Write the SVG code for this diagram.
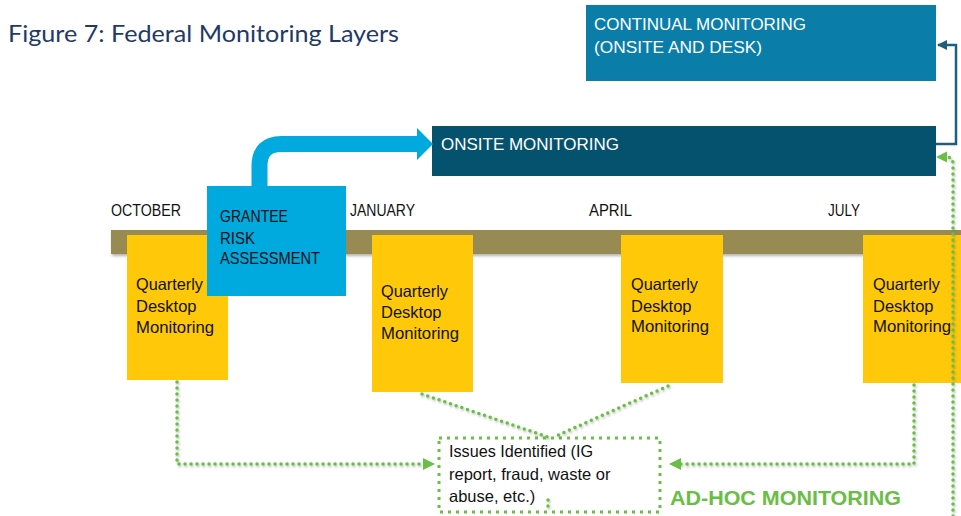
<svg xmlns="http://www.w3.org/2000/svg" width="961" height="516" viewBox="0 0 961 516">
  <defs>
    <style>
      .cap { font-family: "Liberation Sans", Arial, sans-serif; font-size: 17px; }
      .wht { fill: #ffffff; }
      .blk { fill: #111111; }
      .qdm { font-family: "Liberation Sans", Arial, sans-serif; font-size: 16.5px; fill: #111111; }
      .yel { fill: #ffc90a; }
      .dots { fill: none; stroke: #6abd45; stroke-width: 3.5; stroke-dasharray: 0 6; stroke-linecap: round; stroke-linejoin: round; }
    </style>
    <filter id="barShadow" x="-5%" y="-50%" width="110%" height="200%">
      <feDropShadow dx="1" dy="2" stdDeviation="1.5" flood-color="#000" flood-opacity="0.3"/>
    </filter>
    <filter id="dotShadow" x="-10%" y="-10%" width="120%" height="120%">
      <feDropShadow dx="1" dy="1.5" stdDeviation="1" flood-color="#666" flood-opacity="0.45"/>
    </filter>
    <marker id="tealHead" viewBox="0 0 10 10" refX="9" refY="5" markerWidth="4" markerHeight="4" orient="auto" markerUnits="strokeWidth">
      <path d="M0,0 L10,5 L0,10 Z" fill="#1e607c"/>
    </marker>
  </defs>

  <rect width="961" height="516" fill="#ffffff"/>

  <!-- heading -->
  <text x="8" y="42" font-family="Lato, 'Noto Sans', sans-serif" font-size="23" fill="#1f3a68" textLength="391" lengthAdjust="spacingAndGlyphs">Figure 7: Federal Monitoring Layers</text>

  <!-- timeline bar and month labels -->
  <g id="timeline">
    <rect x="111" y="230" width="850" height="24" fill="#978a52" filter="url(#barShadow)"/>
    <text class="cap blk" x="111" y="216" font-size="16" textLength="70" lengthAdjust="spacingAndGlyphs">OCTOBER</text>
    <text class="cap blk" x="350" y="216" font-size="16" textLength="65" lengthAdjust="spacingAndGlyphs">JANUARY</text>
    <text class="cap blk" x="589" y="216" font-size="16" textLength="43" lengthAdjust="spacingAndGlyphs">APRIL</text>
    <text class="cap blk" x="828" y="216" font-size="16" textLength="32" lengthAdjust="spacingAndGlyphs">JULY</text>
  </g>

  <!-- quarterly desktop monitoring boxes -->
  <g id="q1">
    <rect class="yel" x="127" y="235" width="101" height="145"/>
    <text class="qdm" x="136" y="290" textLength="67" lengthAdjust="spacingAndGlyphs">Quarterly</text>
    <text class="qdm" x="136" y="312">Desktop</text>
    <text class="qdm" x="136" y="333" textLength="78" lengthAdjust="spacingAndGlyphs">Monitoring</text>
  </g>
  <g id="q2">
    <rect class="yel" x="372" y="235" width="101" height="157"/>
    <text class="qdm" x="381" y="297" textLength="67" lengthAdjust="spacingAndGlyphs">Quarterly</text>
    <text class="qdm" x="381" y="318">Desktop</text>
    <text class="qdm" x="381" y="339" textLength="78" lengthAdjust="spacingAndGlyphs">Monitoring</text>
  </g>
  <g id="q3">
    <rect class="yel" x="621" y="235" width="102" height="148"/>
    <text class="qdm" x="631" y="290" textLength="67" lengthAdjust="spacingAndGlyphs">Quarterly</text>
    <text class="qdm" x="631" y="312">Desktop</text>
    <text class="qdm" x="631" y="332" textLength="78" lengthAdjust="spacingAndGlyphs">Monitoring</text>
  </g>
  <g id="q4">
    <rect class="yel" x="863" y="235" width="98" height="148"/>
    <text class="qdm" x="873" y="290" textLength="67" lengthAdjust="spacingAndGlyphs">Quarterly</text>
    <text class="qdm" x="873" y="312">Desktop</text>
    <text class="qdm" x="873" y="332" textLength="78" lengthAdjust="spacingAndGlyphs">Monitoring</text>
  </g>

  <!-- risk assessment -->
  <g id="risk">
    <rect x="207" y="186" width="139" height="110" fill="#00a9de"/>
    <text class="cap blk" x="220" y="222" textLength="68" lengthAdjust="spacingAndGlyphs">GRANTEE</text>
    <text class="cap blk" x="220" y="244" textLength="35" lengthAdjust="spacingAndGlyphs">RISK</text>
    <text class="cap blk" x="220" y="264" textLength="100" lengthAdjust="spacingAndGlyphs">ASSESSMENT</text>
  </g>

  <!-- onsite monitoring -->
  <g id="onsite">
    <rect x="432" y="126" width="504" height="50" fill="#05526e"/>
    <text class="cap wht" x="441" y="150" font-size="18" textLength="178" lengthAdjust="spacingAndGlyphs">ONSITE MONITORING</text>
  </g>

  <!-- continual monitoring -->
  <g id="continual">
    <rect x="586" y="5" width="350" height="76" fill="#0a7ea9"/>
    <text class="cap wht" x="594" y="30" font-size="18" textLength="212" lengthAdjust="spacingAndGlyphs">CONTINUAL MONITORING</text>
    <text class="cap wht" x="594" y="53" font-size="18" textLength="168" lengthAdjust="spacingAndGlyphs">(ONSITE AND DESK)</text>
  </g>

  <!-- issues identified -->
  <g id="issues">
    <rect x="439" y="438" width="221" height="74" fill="none" stroke="#6abd45" stroke-width="3" stroke-dasharray="3 5"/>
    <text class="qdm" x="449" y="457" font-size="15" textLength="144" lengthAdjust="spacingAndGlyphs">Issues Identified (IG</text>
    <text class="qdm" x="449" y="480" font-size="15">report, fraud, waste or</text>
    <text class="qdm" x="449" y="502" font-size="15">abuse, etc.)</text>
  </g>

  <g id="adhoc-label">
    <text x="670" y="505" font-family="'Liberation Sans', Arial, sans-serif" font-weight="bold" font-size="21" fill="#6abd45" textLength="231" lengthAdjust="spacingAndGlyphs">AD-HOC MONITORING</text>
  </g>

  <!-- connectors -->
  <g id="connectors">
    <!-- risk assessment to onsite -->
    <path d="M259.5,186 V166 Q259.5,144 281.5,144 H418" fill="none" stroke="#00a9de" stroke-width="16"/>
    <path d="M417,128 L433,144 L417,160 Z" fill="#00a9de"/>

    <!-- onsite to continual -->
    <path d="M936,144 H956 V45 H938" fill="none" stroke="#1e607c" stroke-width="2.5" marker-end="url(#tealHead)"/>

    <g filter="url(#dotShadow)">
      <!-- quarterly reviews to issues -->
      <path class="dots" d="M177,382 V464 H426"/>
      <path class="dots" d="M914,385 V464 H678"/>
      <path class="dots" d="M422,394 L548,437"/>
      <path class="dots" d="M668,386 L556,436"/>
      <path class="dots" d="M548,500 V512"/>
      <!-- ad-hoc feed up to onsite -->
      <path class="dots" d="M953,516 V164 Q953,157 946,157"/>
    </g>
    <path d="M435,464 L423,458 L423,470 Z" fill="#6abd45"/>
    <path d="M669,464 L681,458 L681,470 Z" fill="#6abd45"/>
    <path d="M936,157 L947,151.5 L947,162.5 Z" fill="#6abd45"/>
  </g>
</svg>
